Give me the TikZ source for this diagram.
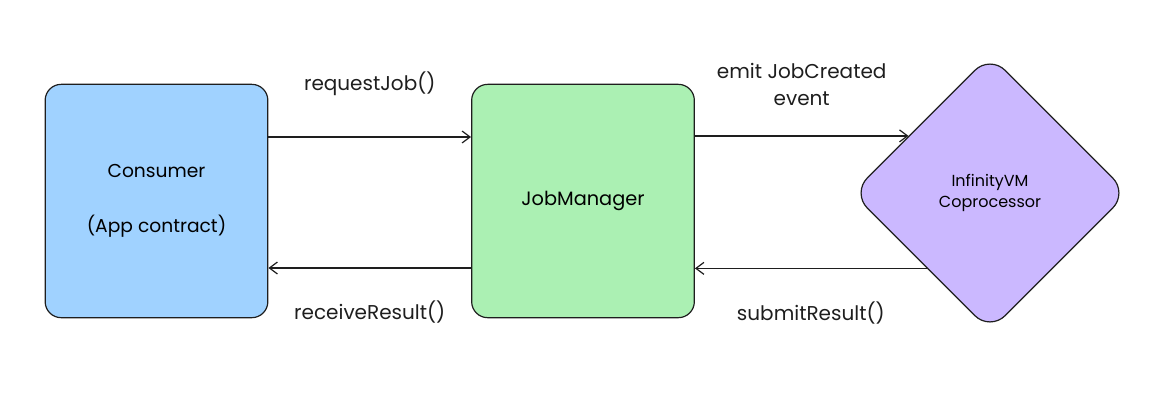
\documentclass[tikz,border=0pt]{standalone}
\usepackage{fontspec}
\setmainfont{Poppins}
\usetikzlibrary{shapes.geometric,arrows.meta}
\definecolor{inkc}{HTML}{1E1E1E}
\definecolor{consfill}{HTML}{A0D2FF}
\definecolor{jobfill}{HTML}{ABF0B3}
\definecolor{vmfill}{HTML}{CBB8FF}
\begin{document}
\begin{tikzpicture}[x=0.75pt,y=-0.75pt,
  box/.style={draw=inkc,line width=0.9pt,rounded corners=12pt,minimum width=167pt,minimum height=175pt,font=\fontsize{14}{16}\selectfont},
  arr/.style={draw=inkc,line width=0.9pt,-{Straight Barb[length=6pt,width=9pt]}},
  lbl/.style={text=inkc,font=\fontsize{15}{20}\selectfont,align=center}]
\useasboundingbox (0,0) rectangle (1159,404);
\node[box,fill=consfill,align=center] (cons) at (156.5,201) {Consumer\\[25pt](App contract)};
\node[box,fill=jobfill,font=\fontsize{14.5}{16}\selectfont] (job) at (583,201) {JobManager};
\node[diamond,draw=inkc,line width=0.9pt,fill=vmfill,rounded corners=16pt,minimum width=207pt,minimum height=207pt,align=center,font=\fontsize{12}{15.5}\selectfont] (vm) at (990,193) {InfinityVM\\Coprocessor};
\draw[arr] (cons.east |- 0,137) -- node[lbl,above=27pt] (req) {requestJob()} (job.west |- 0,137);
\draw[arr] (job.west |- 0,268) -- node[lbl,below=21pt] (rcv) {receiveResult()} (cons.east |- 0,268);
\draw[arr] (job.east |- vm.145) -- node[lbl,above=19pt] (emit) {emit JobCreated\\event} (vm.145);
\draw[arr] (vm.230) -- node[lbl,below=21pt] (sub) {submitResult()} (job.east |- vm.230);
\end{tikzpicture}
\end{document}
